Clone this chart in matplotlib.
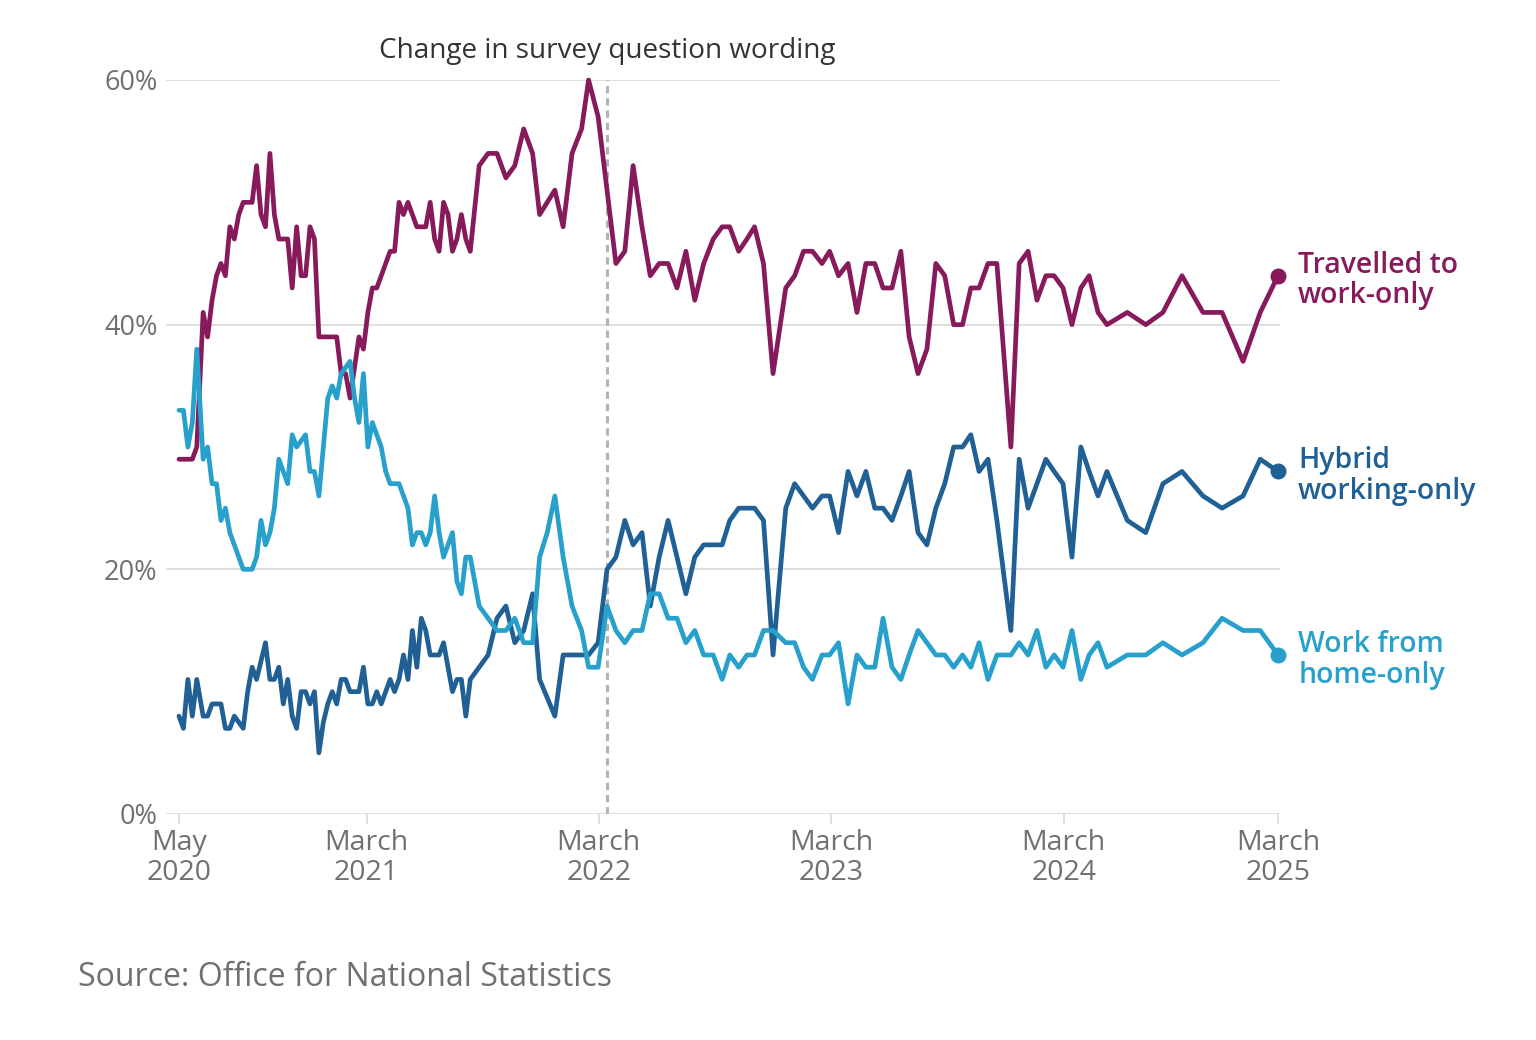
import matplotlib
matplotlib.use("Agg")
import matplotlib.pyplot as plt
import matplotlib.dates as mdates
import pandas as pd
import numpy as np

plt.rcParams['font.family'] = ['Open Sans', 'DejaVu Sans']

# ---------------- data ----------------
early_dates = ["2020-05-10", "2020-05-17", "2020-05-24", "2020-05-31", "2020-06-07"]
weekly_start = "2020-06-17"
weekly_count = 61
fortnightly_dates = [
    "2021-08-25", "2021-09-08", "2021-09-22", "2021-10-06", "2021-10-20", "2021-11-03",
    "2021-11-17", "2021-11-28", "2021-12-10", "2021-12-22", "2022-01-04", "2022-01-18",
    "2022-02-02", "2022-02-13", "2022-02-28", "2022-03-14", "2022-03-28", "2022-04-11",
    "2022-04-24", "2022-05-08", "2022-05-21", "2022-06-04", "2022-06-18", "2022-07-02",
    "2022-07-16", "2022-07-30", "2022-08-13", "2022-08-28", "2022-09-11", "2022-09-23",
    "2022-10-07", "2022-10-20", "2022-11-01", "2022-11-15", "2022-11-30", "2022-12-20",
    "2023-01-03", "2023-01-17", "2023-01-31", "2023-02-15", "2023-02-27", "2023-03-13",
    "2023-03-28", "2023-04-11", "2023-04-25", "2023-05-09", "2023-05-22", "2023-06-05",
    "2023-06-19", "2023-07-02", "2023-07-16", "2023-07-30", "2023-08-13", "2023-08-27",
    "2023-09-10", "2023-09-24", "2023-10-07", "2023-10-20", "2023-11-03", "2023-11-17",
    "2023-12-09", "2023-12-22", "2024-01-05", "2024-01-19", "2024-02-02", "2024-02-15",
    "2024-02-29", "2024-03-14", "2024-03-28", "2024-04-10", "2024-04-24", "2024-05-08",
]
late_dates = ["2024-06-09", "2024-07-08", "2024-08-04", "2024-09-03", "2024-10-06",
              "2024-11-05", "2024-12-08", "2025-01-04", "2025-02-01"]

travelled = [
    29, 29, 29, 29, 30,
    41, 39, 42, 44, 45, 44, 48, 47, 49, 50,
    50, 50, 53, 49, 48, 54, 49, 47, 47, 47,
    43, 48, 44, 44, 48, 47, 39, 39, 39, 39,
    39, 36, 36, 34, 36.5, 39, 38, 41, 43, 43,
    44, 45, 46, 46, 50, 49, 50, 49, 48, 48,
    48, 50, 47, 46, 50, 49, 46, 47, 49, 47, 46,
    53, 54, 54, 52, 53, 56, 54, 49, 50, 51,
    48, 54, 56, 60, 57, 51, 45, 46, 53, 48,
    44, 45, 45, 43, 46, 42, 45, 47, 48, 48,
    46, 47, 48, 45, 36, 43, 44, 46, 46, 45,
    46, 44, 45, 41, 45, 45, 43, 43, 46, 39,
    36, 38, 45, 44, 40, 40, 43, 43, 45, 45,
    30, 45, 46, 42, 44, 44, 43, 40, 43, 44,
    41, 40,
    41, 40, 41, 44, 41, 41, 37, 41, 44,
]
hybrid = [
    8, 7, 11, 8, 11,
    8, 8, 9, 9, 9, 7, 7, 8, 7.5, 7,
    10, 12, 11, 12.5, 14, 11, 11, 12, 9, 11,
    8, 7, 10, 10, 9, 10, 5, 7.5, 9, 10,
    9, 11, 11, 10, 10, 10, 12, 9, 9, 10,
    9, 10, 11, 10, 11, 13, 11, 15, 12, 16,
    15, 13, 13, 13, 14, 12, 10, 11, 11, 8, 11,
    12, 13, 16, 17, 14, 15, 18, 11, 9.5, 8,
    13, 13, 13, 13, 14, 20, 21, 24, 22, 23,
    17, 21, 24, 21, 18, 21, 22, 22, 22, 24,
    25, 25, 25, 24, 13, 25, 27, 26, 25, 26,
    26, 23, 28, 26, 28, 25, 25, 24, 26, 28,
    23, 22, 25, 27, 30, 30, 31, 28, 29, 24,
    15, 29, 25, 27, 29, 28, 27, 21, 30, 28,
    26, 28,
    24, 23, 27, 28, 26, 25, 26, 29, 28,
]
home = [
    33, 33, 30, 32, 38,
    29, 30, 27, 27, 24, 25, 23, 22, 21, 20,
    20, 20, 21, 24, 22, 23, 25, 29, 28, 27,
    31, 30, 30.5, 31, 28, 28, 26, 30, 34, 35,
    34, 36, 36.5, 37, 34, 32, 36, 30, 32, 31,
    30, 28, 27, 27, 27, 26, 25, 22, 23, 23,
    22, 23, 26, 23, 21, 22, 23, 19, 18, 21, 21,
    17, 16, 15, 15, 16, 14, 14, 21, 23, 26,
    21, 17, 15, 12, 12, 17, 15, 14, 15, 15,
    18, 18, 16, 16, 14, 15, 13, 13, 11, 13,
    12, 13, 13, 15, 15, 14, 14, 12, 11, 13,
    13, 14, 9, 13, 12, 12, 16, 12, 11, 13,
    15, 14, 13, 13, 12, 13, 12, 14, 11, 13,
    13, 14, 13, 15, 12, 13, 12, 15, 11, 13,
    14, 12,
    13, 13, 14, 13, 14, 16, 15, 15, 13,
]

series_names = ["Travelled to\nwork-only", "Hybrid\nworking-only", "Work from\nhome-only"]
series_colors = ["#871A5B", "#206095", "#27A0CC"]

tick_dates = ["2020-05-10", "2021-03-01", "2022-03-01", "2023-03-01", "2024-03-01", "2025-02-01"]
tick_labels = ["May\n2020", "March\n2021", "March\n2022", "March\n2023", "March\n2024", "March\n2025"]
y_ticks = [0, 20, 40, 60]
y_tick_labels = ["0%", "20%", "40%", "60%"]

change_date = "2022-03-14"
change_label = "Change in survey question wording"
source_text = "Source: Office for National Statistics"

# ---------------- build ----------------
dates = (list(pd.to_datetime(early_dates))
         + list(pd.date_range(weekly_start, periods=weekly_count, freq="7D"))
         + list(pd.to_datetime(fortnightly_dates))
         + list(pd.to_datetime(late_dates)))
dates = pd.DatetimeIndex(dates)

W, H = 1536, 1040
fig = plt.figure(figsize=(W / 100, H / 100), dpi=100)
ax = fig.add_axes([166 / W, (H - 814) / H, (1280 - 166) / W, (814 - 80) / H])

grid_col = "#d9d9d9"
text_grey = "#707070"

for yv in y_ticks:
    ax.axhline(yv, color=grid_col, lw=1.2, zorder=0)

ax.axvline(pd.Timestamp(change_date), color="#b3b3b3", lw=2.2,
           dashes=(2.4, 1.6), zorder=1)

for vals, name, col in zip([travelled, hybrid, home], series_names, series_colors):
    ax.plot(dates, vals, color=col, lw=3.4, solid_joinstyle="round",
            solid_capstyle="round", zorder=3, clip_on=False)
    ax.plot(dates[-1], vals[-1], "o", color=col, ms=10.5, zorder=4, clip_on=False)
    ax.annotate(name, xy=(dates[-1], vals[-1]), xytext=(14.5, -3.5),
                textcoords="offset points", ha="left", va="center",
                color=col, fontsize=20.4, fontweight="semibold",
                linespacing=1.08, annotation_clip=False)

x0 = mdates.date2num(dates[0])
x1 = mdates.date2num(dates[-1])
ax.set_xlim(x0 - 20.4, x1 + 3.1)
ax.set_ylim(0, 60)

for s in ax.spines.values():
    s.set_visible(False)

ax.set_yticks(y_ticks)
ax.set_yticklabels(y_tick_labels)
ax.tick_params(axis="y", length=0, pad=6, labelsize=19.5, labelcolor=text_grey)

ax.set_xticks([mdates.date2num(pd.Timestamp(d)) for d in tick_dates])
ax.set_xticklabels(tick_labels, linespacing=1.12)
ax.tick_params(axis="x", length=7, width=1.2, color=grid_col, pad=3.5,
               labelsize=20.5, labelcolor=text_grey)

ax.text(pd.Timestamp(change_date), 62.4, change_label, ha="center", va="center",
        fontsize=20.1, color="#333333", clip_on=False)

fig.text(78 / W, 1 - 977 / H, source_text, ha="left", va="center",
         fontsize=23, color=text_grey)

fig.savefig("out.png", dpi=100)
